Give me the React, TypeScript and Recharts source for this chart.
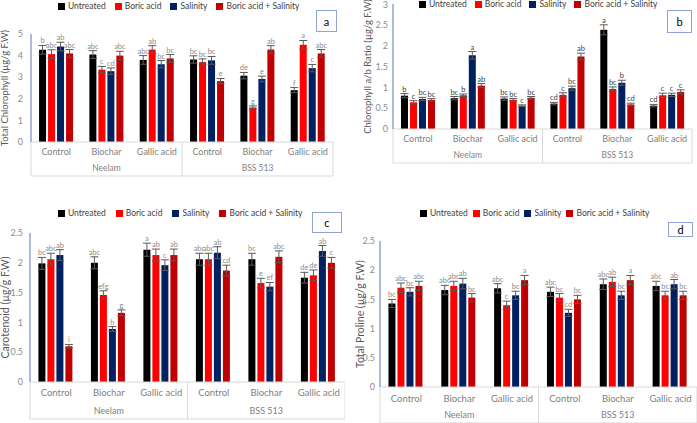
import React from "react";
import { BarChart, Bar, XAxis, YAxis, ErrorBar, LabelList, Legend, Label } from "recharts";

const categories = ["Control", "Biochar", "Gallic acid", "Control", "Biochar", "Gallic acid"];
const groups = ["Neelam", "BSS 513"];
const seriesNames = ["Untreated", "Boric acid", "Salinity", "Boric acid + Salinity"];
const seriesColors = ["#000000", "#ff0000", "#002060", "#c00000"];

// a - total chlorophyll (rows: series, cols: categories)
const chlValues = [
  [4.27, 4.05, 3.8, 3.82, 3.07, 2.4],
  [4.07, 3.35, 4.28, 3.7, 1.6, 4.5],
  [4.42, 3.28, 3.6, 3.78, 2.92, 3.42],
  [4.1, 4.0, 3.87, 2.82, 4.28, 4.1],
];
const chlErrors = [
  [0.2, 0.18, 0.2, 0.17, 0.15, 0.12],
  [0.2, 0.15, 0.18, 0.15, 0.07, 0.2],
  [0.2, 0.15, 0.17, 0.18, 0.13, 0.17],
  [0.18, 0.2, 0.18, 0.12, 0.18, 0.18],
];
const chlLetters = [
  ["b", "abc", "abc", "bc", "de", "f"],
  ["abc", "c", "ab", "bc", "g", "a"],
  ["ab", "cd", "bc", "bc", "e", "c"],
  ["abc", "abc", "bc", "e", "ab", "abc"],
];

// b - chlorophyll a/b ratio
const ratioValues = [
  [0.8, 0.74, 0.73, 0.61, 2.38, 0.56],
  [0.64, 0.81, 0.7, 0.82, 0.96, 0.81],
  [0.72, 1.77, 0.56, 0.98, 1.11, 0.82],
  [0.7, 1.04, 0.75, 1.74, 0.59, 0.89],
];
const ratioErrors = [
  [0.05, 0.04, 0.04, 0.03, 0.12, 0.03],
  [0.04, 0.03, 0.03, 0.05, 0.05, 0.05],
  [0.04, 0.09, 0.02, 0.05, 0.06, 0.04],
  [0.03, 0.05, 0.03, 0.08, 0.03, 0.05],
];
const ratioLetters = [
  ["b", "bc", "bc", "cd", "a", "cd"],
  ["c", "b", "bc", "c", "bc", "c"],
  ["bc", "a", "c", "bc", "b", "c"],
  ["bc", "ab", "bc", "ab", "cd", "c"],
];

// c - carotenoid
const carValues = [
  [1.99, 2.0, 2.22, 2.06, 2.06, 1.75],
  [2.06, 1.46, 2.13, 2.06, 1.66, 1.79],
  [2.13, 0.89, 1.96, 2.17, 1.6, 2.2],
  [0.6, 1.16, 2.13, 1.87, 2.1, 2.0],
];
const carErrors = [
  [0.1, 0.1, 0.11, 0.1, 0.1, 0.09],
  [0.1, 0.07, 0.1, 0.1, 0.08, 0.09],
  [0.09, 0.04, 0.09, 0.1, 0.07, 0.09],
  [0.03, 0.05, 0.1, 0.09, 0.1, 0.09],
];
const carLetters = [
  ["bc", "abc", "a", "abc", "bc", "de"],
  ["abc", "efg", "ab", "abc", "e", "de"],
  ["ab", "h", "c", "ab", "ef", "ab"],
  ["i", "g", "ab", "cd", "abc", "c"],
];

// d - total proline
const proValues = [
  [1.43, 1.66, 1.69, 1.63, 1.76, 1.73],
  [1.7, 1.73, 1.4, 1.53, 1.8, 1.57],
  [1.63, 1.77, 1.57, 1.27, 1.57, 1.76],
  [1.73, 1.53, 1.83, 1.5, 1.83, 1.57],
];
const proErrors = [
  [0.07, 0.08, 0.08, 0.08, 0.09, 0.08],
  [0.08, 0.08, 0.07, 0.07, 0.08, 0.07],
  [0.07, 0.09, 0.07, 0.06, 0.07, 0.08],
  [0.08, 0.07, 0.08, 0.07, 0.08, 0.07],
];
const proLetters = [
  ["bc", "abc", "abc", "abc", "abc", "abc"],
  ["abc", "abc", "c", "bc", "ab", "bc"],
  ["bc", "ab", "bc", "cd", "bc", "ab"],
  ["abc", "bc", "a", "bc", "a", "bc"],
];

const ticksTo = (max: number) => {
  const t: number[] = [];
  for (let v = 0; v <= max + 1e-9; v += 0.5) t.push(Math.round(v * 10) / 10);
  return t;
};

function CatTick(props: any) {
  const { x, y, payload, bandW, catDy, groupDy, fontSize } = props;
  const i = payload.value as number;
  const half = bandW / 2;
  const lineBottom = y + groupDy + 5;
  const stroke = "#d9d9d9";
  return (
    <g>
      <text x={x} y={y + catDy} textAnchor="middle" fontSize={fontSize} fill="#7f7f7f">
        {categories[i]}
      </text>
      {i % 3 === 1 && (
        <text x={x} y={y + groupDy} textAnchor="middle" fontSize={fontSize - 0.5} fill="#7f7f7f">
          {groups[Math.floor(i / 3)]}
        </text>
      )}
      {i % 3 === 0 && <line x1={x - half} x2={x - half} y1={y} y2={lineBottom} stroke={stroke} />}
      {i === categories.length - 1 && <line x1={x + half} x2={x + half} y1={y} y2={lineBottom} stroke={stroke} />}
      <line x1={x - half} x2={x + half} y1={lineBottom} y2={lineBottom} stroke={stroke} />
    </g>
  );
}

// legend drawn in series order (recharts would sort it by name)
function LegendRow({ gap }: any) {
  return (
    <div style={{ display: "flex", gap, fontSize: 8.5, color: "#404040", whiteSpace: "nowrap" }}>
      {seriesNames.map((name, s) => (
        <div key={name} style={{ display: "flex", alignItems: "center", gap: 3 }}>
          <div style={{ width: 7, height: 7, background: seriesColors[s] }} />
          <span>{name}</span>
        </div>
      ))}
    </div>
  );
}

function Panel(props: any) {
  const {
    left, top, width, height, plotLeft, plotTop, plotRight, plotBottom,
    yMax, values, errors, letters, yLabel, yLabelX, yLabelSize, tag, tagBox,
    legendX, legendY, legendGap, catDy, groupDy, catSize, letterColor, tickGap,
  } = props;
  const rows = categories.map((_, i) => {
    const row: any = { idx: i };
    values.forEach((v: number[], s: number) => {
      row["v" + s] = v[i];
      row["e" + s] = errors[s][i];
      row["l" + s] = letters[s][i];
    });
    return row;
  });
  const xAxisH = 40;
  const margin = {
    top: plotTop,
    left: 0,
    right: width - plotRight,
    bottom: height - plotBottom - xAxisH,
  };
  const bandW = (plotRight - plotLeft) / categories.length;
  return (
    <div style={{ position: "absolute", left, top, width, height }}>
      <BarChart width={width} height={height} data={rows} margin={margin} barCategoryGap="16%" barGap={2}>
        <XAxis
          dataKey="idx"
          interval={0}
          height={xAxisH}
          tickLine={false}
          tickSize={0}
          tickMargin={0}
          axisLine={{ stroke: "#d9d9d9" }}
          tick={<CatTick bandW={bandW} catDy={catDy} groupDy={groupDy} fontSize={catSize} />}
        />
        <YAxis
          domain={[0, yMax]}
          ticks={ticksTo(yMax)}
          width={plotLeft}
          tickLine={false}
          tickSize={0}
          tickMargin={tickGap}
          axisLine={{ stroke: "#8ea4d2", strokeWidth: 1.5 }}
          tick={{ fontSize: 9, fill: "#8c8c8c" }}
        >
          <Label
            value={yLabel}
            angle={-90}
            position="insideLeft"
            offset={yLabelX}
            style={{ textAnchor: "middle", fontSize: yLabelSize, fill: "#595959" }}
          />
        </YAxis>
        <Legend
          verticalAlign="middle"
          align="center"
          layout="horizontal"
          content={<LegendRow gap={legendGap} />}
          wrapperStyle={{ left: legendX, top: legendY, width: "auto", height: "auto" }}
        />
        {seriesNames.map((name, s) => (
          <Bar key={name} name={name} dataKey={"v" + s} fill={seriesColors[s]} isAnimationActive={false}>
            <ErrorBar dataKey={"e" + s} width={4} stroke="#595959" strokeWidth={1} />
            <LabelList
              dataKey={"l" + s}
              content={(p: any) => {
                const v = values[s][p.index];
                const errPx = v ? (errors[s][p.index] * p.height) / v : 0;
                return (
                  <text x={p.x + p.width / 2} y={p.y - errPx - 2} textAnchor="middle" fontSize={7.5} fill={letterColor}>
                    {p.value}
                  </text>
                );
              }}
            />
          </Bar>
        ))}
      </BarChart>
      <div
        style={{
          position: "absolute",
          left: tagBox[0],
          top: tagBox[1],
          width: tagBox[2],
          height: tagBox[3],
          border: "1px solid #8ea4d2",
          boxSizing: "border-box",
          display: "flex",
          alignItems: "center",
          justifyContent: "center",
          fontSize: 11,
          color: "#000",
          background: "#fff",
        }}
      >
        {tag}
      </div>
    </div>
  );
}

export default function App() {
  return (
    <div
      style={{
        position: "absolute",
        left: 0,
        top: 0,
        width: 697,
        height: 423,
        background: "#fff",
        overflow: "hidden",
        fontFamily: "Lato, 'Liberation Sans', sans-serif",
      }}
    >
      <Panel
        left={0} top={0} width={345} height={185}
        plotLeft={31} plotTop={34} plotRight={333} plotBottom={142}
        yMax={5} values={chlValues} errors={chlErrors} letters={chlLetters}
        yLabel="Total Chlorophyll (µg/g F.W)" yLabelX={5} yLabelSize={9.5}
        tag="a" tagBox={[316, 10, 21, 22]}
        legendX={58} legendY={1} legendGap={9} catDy={13} groupDy={29} catSize={9}
        letterColor="#8c8c8c" tickGap={8}
      />
      <Panel
        left={345} top={0} width={352} height={185}
        plotLeft={48} plotTop={4} plotRight={347} plotBottom={129}
        yMax={3} values={ratioValues} errors={ratioErrors} letters={ratioLetters}
        yLabel="Chlorophyll a/b Ratio (µg/g F.W)" yLabelX={23} yLabelSize={9.5}
        tag="b" tagBox={[322, 10, 25, 23]}
        legendX={74} legendY={-1} legendGap={8} catDy={13} groupDy={29} catSize={9}
        letterColor="#404040" tickGap={5}
      />
      <Panel
        left={0} top={200} width={345} height={223}
        plotLeft={30} plotTop={33} plotRight={345} plotBottom={182}
        yMax={2.5} values={carValues} errors={carErrors} letters={carLetters}
        yLabel="Carotenoid (µg/g F.W)" yLabelX={5} yLabelSize={10.5}
        tag="c" tagBox={[312, 12, 30, 21]}
        legendX={58} legendY={8} legendGap={10} catDy={14} groupDy={32} catSize={9.5}
        letterColor="#8c8c8c" tickGap={7}
      />
      <Panel
        left={345} top={200} width={352} height={223}
        plotLeft={35} plotTop={41} plotRight={352} plotBottom={187}
        yMax={2.5} values={proValues} errors={proErrors} letters={proLetters}
        yLabel="Total Proline (µg/g F.W)" yLabelX={15} yLabelSize={10.5}
        tag="d" tagBox={[323, 22, 25, 15]}
        legendX={75} legendY={8} legendGap={5} catDy={15} groupDy={31} catSize={9.5}
        letterColor="#8c8c8c" tickGap={5}
      />
    </div>
  );
}
